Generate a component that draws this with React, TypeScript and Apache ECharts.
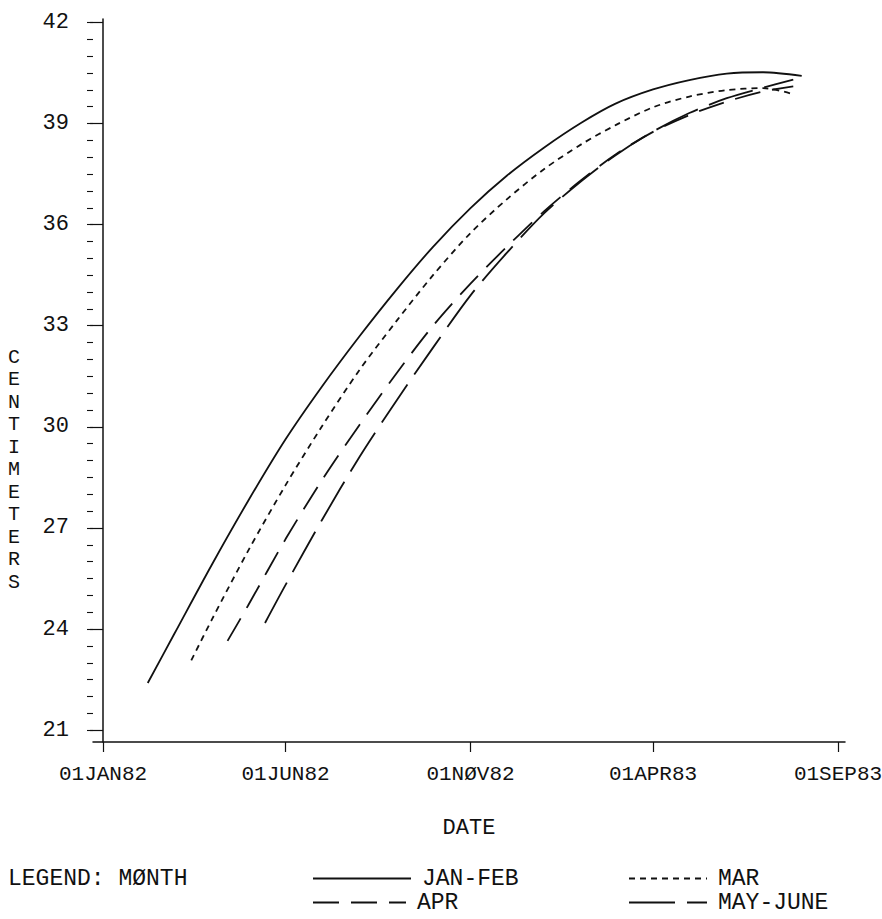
import React, { useEffect, useRef } from "react";
import * as echarts from "echarts";

// Axis ticks
const X_TICK_DATES = ["1982-01-01", "1982-06-01", "1982-11-01", "1983-04-01", "1983-09-01"];
const X_TICK_LABELS = ["01JAN82", "01JUN82", "01NØV82", "01APR83", "01SEP83"];
const Y_TICKS = [21, 24, 27, 30, 33, 36, 39, 42];

// Growth curves (centimeters) by month of birth
const JANFEB_DATES = ["1982-02-07", "1982-03-01", "1982-04-01", "1982-05-01", "1982-06-01", "1982-07-01", "1982-08-01", "1982-09-01", "1982-10-01", "1982-11-01", "1982-12-01", "1983-01-01", "1983-02-01", "1983-03-01", "1983-04-01", "1983-05-01", "1983-06-01", "1983-07-01", "1983-08-02"];
const JANFEB_CM = [22.4, 23.86, 25.91, 27.8, 29.63, 31.19, 32.68, 34.08, 35.34, 36.49, 37.45, 38.29, 39.03, 39.59, 40.01, 40.29, 40.48, 40.52, 40.41];

const MAR_DATES = ["1982-03-15", "1982-04-01", "1982-05-01", "1982-06-01", "1982-07-01", "1982-08-01", "1982-09-01", "1982-10-01", "1982-11-01", "1982-12-01", "1983-01-01", "1983-02-01", "1983-03-01", "1983-04-01", "1983-05-01", "1983-06-01", "1983-07-01", "1983-07-25"];
const MAR_CM = [23.07, 24.28, 26.32, 28.27, 30.01, 31.68, 33.15, 34.5, 35.75, 36.75, 37.65, 38.39, 38.95, 39.48, 39.8, 39.99, 40.05, 39.88];

const APR_DATES = ["1982-04-14", "1982-05-01", "1982-06-01", "1982-07-01", "1982-08-01", "1982-09-01", "1982-10-01", "1982-11-01", "1982-12-01", "1983-01-01", "1983-02-01", "1983-03-01", "1983-04-01", "1983-05-01", "1983-06-01", "1983-07-01", "1983-07-26"];
const APR_CM = [23.65, 24.7, 26.67, 28.41, 30.05, 31.6, 33.0, 34.25, 35.34, 36.4, 37.33, 38.08, 38.75, 39.25, 39.65, 39.95, 40.1];

const MAYJUN_DATES = ["1982-05-15", "1982-06-01", "1982-07-01", "1982-08-01", "1982-09-01", "1982-10-01", "1982-11-01", "1982-12-01", "1983-01-01", "1983-02-01", "1983-03-01", "1983-04-01", "1983-05-01", "1983-06-01", "1983-07-01", "1983-07-26"];
const MAYJUN_CM = [24.18, 25.31, 27.23, 29.1, 30.79, 32.35, 33.9, 35.16, 36.34, 37.3, 38.06, 38.76, 39.31, 39.75, 40.06, 40.3];

const ORIGIN = Date.UTC(1982, 0, 1);
const dayOf = (s: string) => {
  const [y, m, d] = s.split("-").map(Number);
  return (Date.UTC(y, m - 1, d) - ORIGIN) / 86400000;
};
const pairs = (dates: string[], vals: number[]) => dates.map((d, i) => [dayOf(d), vals[i]]);

const FONT = "Liberation Mono";
const INK = "#111";

export default function App() {
  const ref = useRef<HTMLDivElement>(null);

  useEffect(() => {
    if (!ref.current) return;
    const chart = echarts.init(ref.current, null, { renderer: "svg" });

    const xTicks = X_TICK_DATES.map(dayOf);
    const labelOf: Record<string, string> = {};
    xTicks.forEach((d, i) => (labelOf[String(d)] = X_TICK_LABELS[i]));
    const minorTicks: number[] = [];
    for (let v = 21; v <= 42; v += 0.5) minorTicks.push(v);

    const yMin = 20.65;
    const yMax = 42.1;

    const line = (name: string, data: number[][], type: any) => ({
      name,
      type: "line",
      data,
      smooth: 0.3,
      symbol: "none",
      showSymbol: false,
      yAxisIndex: 0,
      lineStyle: { color: INK, width: 1.8, type },
      itemStyle: { color: INK },
    });

    const legendAt = (name: string, left: number, top: number, w: number) => ({
      data: [name],
      left,
      top,
      padding: 0,
      itemWidth: w,
      itemHeight: 14,
      selectedMode: false,
      itemStyle: { opacity: 0, borderWidth: 0 },
      textStyle: { fontFamily: FONT, fontSize: 23, color: INK, padding: [0, 0, 0, 6] },
    });

    chart.setOption({
      animation: false,
      backgroundColor: "#fff",
      grid: { left: 93, right: 37, top: 19, bottom: 177, containLabel: false, outerBoundsMode: "none" },
      xAxis: {
        type: "value",
        min: -8.3,
        max: 613.8,
        name: "DATE",
        nameLocation: "middle",
        nameGap: 75,
        nameTextStyle: { fontFamily: FONT, fontSize: 22, color: INK },
        axisLine: { lineStyle: { color: INK, width: 1.5 } },
        axisTick: { customValues: xTicks, length: 10, lineStyle: { color: INK, width: 1.2 } },
        axisLabel: {
          customValues: xTicks,
          margin: 22,
          fontFamily: FONT,
          fontSize: 21,
          color: INK,
          hideOverlap: false,
          formatter: (v: number) => labelOf[String(v)] ?? "",
        },
        splitLine: { show: false },
      },
      yAxis: [
        {
          type: "value",
          min: yMin,
          max: yMax,
          axisLine: { show: true, lineStyle: { color: INK, width: 1.5 } },
          axisTick: { customValues: Y_TICKS, length: 13, lineStyle: { color: INK, width: 1.2 } },
          axisLabel: { customValues: Y_TICKS, margin: 24, fontFamily: FONT, fontSize: 22, color: INK },
          splitLine: { show: false },
        },
        {
          type: "value",
          min: yMin,
          max: yMax,
          position: "left",
          axisLine: { show: false },
          axisTick: { show: true, customValues: minorTicks, length: 6, lineStyle: { color: INK, width: 1.1 } },
          axisLabel: { show: false, customValues: minorTicks },
          splitLine: { show: false },
        },
      ],
      legend: [
        legendAt("JAN-FEB", 312, 867, 98),
        legendAt("MAR", 628, 867, 78),
        legendAt("APR", 312, 891, 93),
        legendAt("MAY-JUNE", 628, 891, 78),
      ],
      graphic: [
        {
          type: "text",
          left: 8,
          top: 867,
          style: { text: "LEGEND: MØNTH", fontFamily: FONT, fontSize: 23, fill: INK },
        },
        {
          type: "text",
          x: 14,
          y: 346,
          style: {
            text: "CENTIMETERS".split("").join("\n"),
            fontFamily: FONT,
            fontSize: 20,
            lineHeight: 22.5,
            fill: INK,
            align: "center",
            verticalAlign: "top",
          },
        },
      ],
      series: [
        line("JAN-FEB", pairs(JANFEB_DATES, JANFEB_CM), "solid"),
        line("MAR", pairs(MAR_DATES, MAR_CM), [6, 5]),
        line("APR", pairs(APR_DATES, APR_CM), [26, 12]),
        line("MAY-JUNE", pairs(MAYJUN_DATES, MAYJUN_CM), [46, 12]),
      ],
    });

    return () => chart.dispose();
  }, []);

  return (
    <div
      ref={ref}
      style={{ position: "fixed", left: 0, top: 0, width: 882, height: 919, background: "#fff" }}
    />
  );
}
